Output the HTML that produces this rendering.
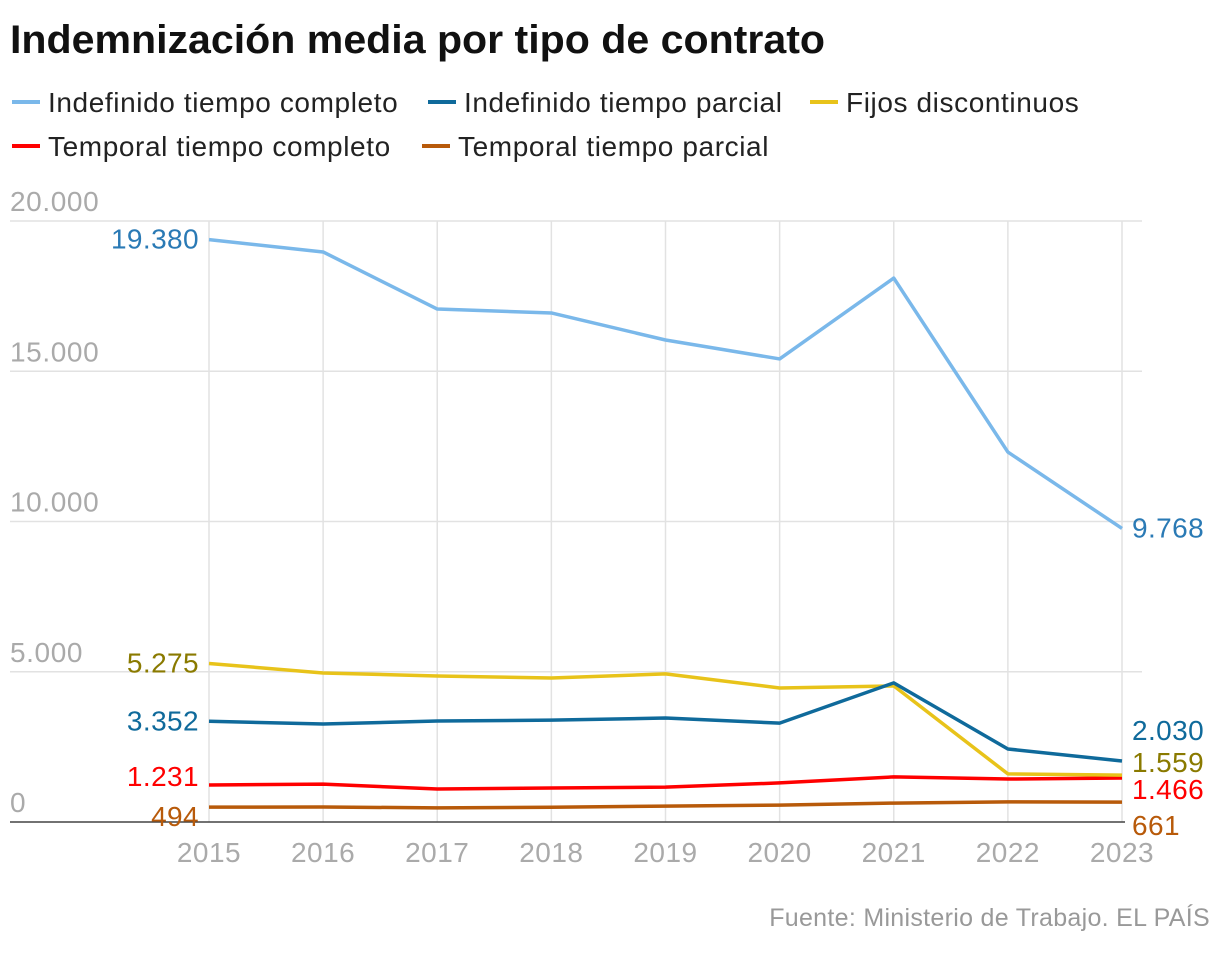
<!DOCTYPE html>
<html><head><meta charset="utf-8"><style>
body{margin:0;background:#fff;width:1220px;height:948px;overflow:hidden;font-family:"Liberation Sans",sans-serif}
</style></head><body>
<svg width="1220" height="948">
<text x="10" y="53" font-size="40" font-weight="bold" fill="#111" textLength="815" lengthAdjust="spacingAndGlyphs">Indemnización media por tipo de contrato</text>
<g id="legend" font-size="28" fill="#222" letter-spacing="0.6"></g>
<g id="grid"></g>
<g id="lines"></g>
<g id="labels" font-size="28" letter-spacing="0.4"></g>
<text x="1210" y="926" font-size="25" fill="#999" text-anchor="end" letter-spacing="0.3">Fuente: Ministerio de Trabajo. EL PAÍS</text>
</svg>
<script>
const years=[2015,2016,2017,2018,2019,2020,2021,2022,2023];
const yTicks=[0,5000,10000,15000,20000];
const yTickLabels=["0","5.000","10.000","15.000","20.000"];
const names=["Indefinido tiempo completo","Indefinido tiempo parcial","Fijos discontinuos","Temporal tiempo completo","Temporal tiempo parcial"];
const indefCompleto=[19380,18970,17070,16940,16040,15410,18100,12310,9768];
const indefParcial=[3352,3260,3360,3390,3460,3290,4630,2430,2030];
const fijosDisc=[5275,4960,4860,4790,4930,4460,4530,1600,1559];
const tempCompleto=[1231,1260,1100,1130,1160,1300,1500,1430,1466];
const tempParcial=[494,500,470,490,530,560,630,670,661];
const startLabels=["19.380","3.352","5.275","1.231","494"];
const endLabels=["9.768","2.030","1.559","1.466","661"];
const series=[indefCompleto,indefParcial,fijosDisc,tempCompleto,tempParcial];
const colors=["#7ab8ea","#0f6a9b","#e8c31a","#ff0000","#b85a0a"];
const labelColors=["#2a7ab5","#0f6a9b","#8a7a00","#ff0000","#b85a0a"];
const NS="http://www.w3.org/2000/svg";
const x=i=>209+i*(1122-209)/(years.length-1);
const y=v=>822-v*(822-221)/20000;
function mk(tag,attrs,parent,text){const e=document.createElementNS(NS,tag);for(const k in attrs)e.setAttribute(k,attrs[k]);if(text!==undefined)e.textContent=text;parent.appendChild(e);return e;}
const grid=document.getElementById('grid');
yTicks.forEach((t,i)=>{
 if(t>0){const l=mk('line',{x1:10,x2:1142,y1:y(t),y2:y(t),stroke:'#e2e2e2','stroke-width':1.5},grid);
 
 }
 const tx=mk('text',{x:10,y:y(t)-10,'font-size':28,fill:'#aaa','letter-spacing':0.6},grid,yTickLabels[i]);
 
 
});
years.forEach((yr,i)=>{
 const l=mk('line',{x1:x(i),x2:x(i),y1:221,y2:822,stroke:'#e2e2e2','stroke-width':1.5},grid);
 
 
 const tx=mk('text',{x:x(i),y:862,'font-size':28,fill:'#aaa','text-anchor':'middle','letter-spacing':0.5},grid,String(yr));
 
 
});
const base=mk('line',{x1:10,x2:1125,y1:y(0),y2:y(0),stroke:'#444','stroke-width':1.5},grid);


const lines=document.getElementById('lines'),labels=document.getElementById('labels');
const order=[4,3,2,1,0];
order.forEach(s=>{
 const p=mk('polyline',{points:series[s].map((v,i)=>x(i)+','+y(v)).join(' '),fill:'none',stroke:colors[s],'stroke-width':3.5,'stroke-linejoin':'round'},lines);
 
 
});
const startOff=[0,0,0,-8,10],endOff=[0,-30,-12,12,24];
series.forEach((d,s)=>{
 const a=mk('text',{x:199,y:y(d[0])+9+startOff[s],fill:labelColors[s],'text-anchor':'end'},labels,startLabels[s]);
 
 
 const n=d.length-1;
 const b=mk('text',{x:1132,y:y(d[n])+9+endOff[s],fill:labelColors[s]},labels,endLabels[s]);
 
 
});
const leg=document.getElementById('legend');
const lp=[[12,112],[428,112],[810,112],[12,156],[422,156]];
names.forEach((nm,s)=>{
 const g=mk('g',{},leg);
 
 
 mk('line',{x1:lp[s][0],x2:lp[s][0]+28,y1:lp[s][1]-10,y2:lp[s][1]-10,stroke:colors[s],'stroke-width':4},g);
 mk('text',{x:lp[s][0]+36,y:lp[s][1]},g,nm);
});
</script>
</body></html>
